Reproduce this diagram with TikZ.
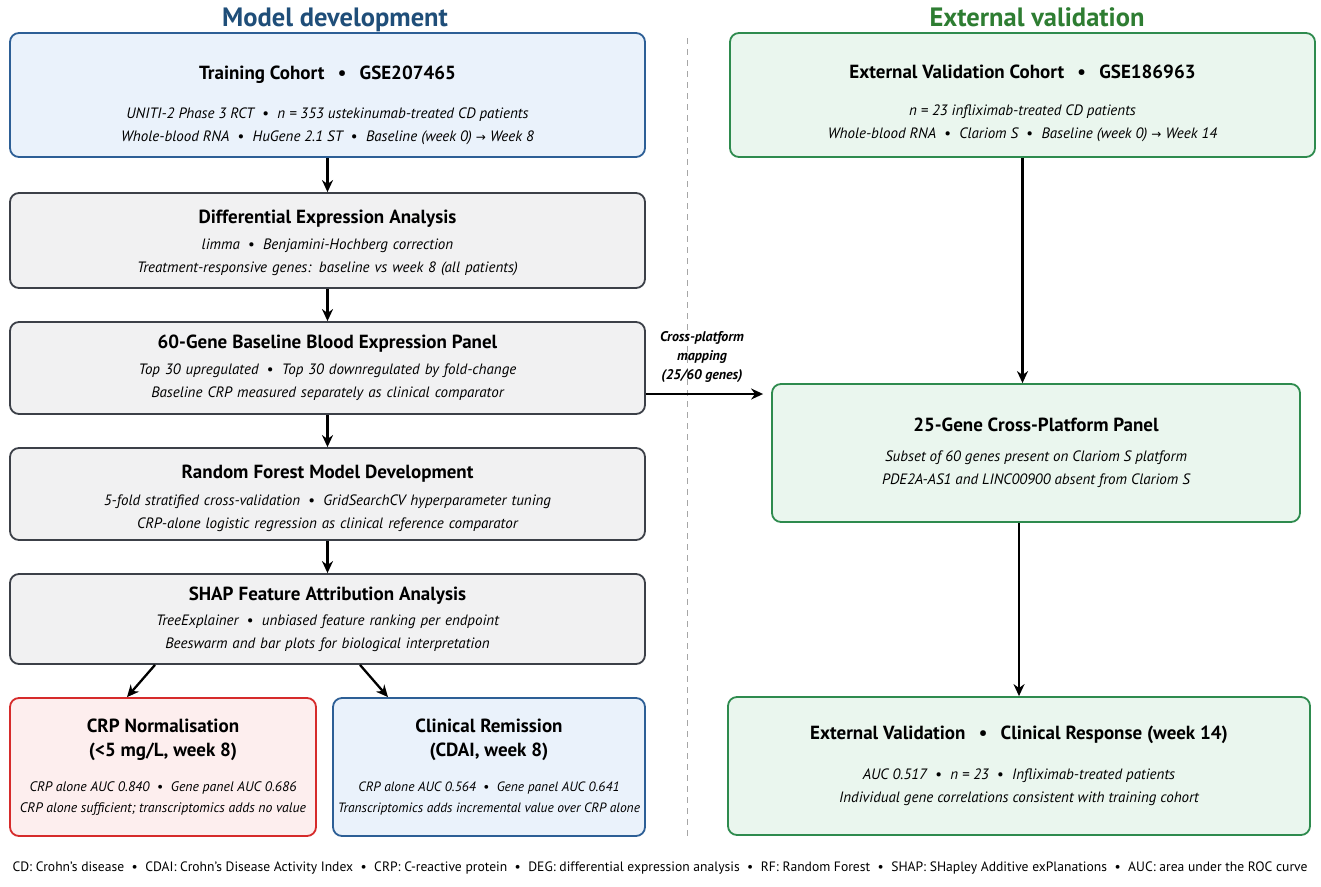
\documentclass[tikz,border=0pt]{standalone}
\usepackage{fontspec}
\setmainfont{PT Sans}
\newfontfamily\symfont{DejaVu Sans}
\usetikzlibrary{arrows.meta}
\definecolor{devblue}{HTML}{1F4E79}
\definecolor{valgreen}{HTML}{2E7D32}
\definecolor{bluedraw}{HTML}{2D5F96}
\definecolor{bluefill}{HTML}{EAF2FB}
\definecolor{greydraw}{HTML}{3C4048}
\definecolor{greyfill}{HTML}{F1F1F2}
\definecolor{greendraw}{HTML}{2E8B4E}
\definecolor{greenfill}{HTML}{EAF6EE}
\definecolor{reddraw}{HTML}{D62B2B}
\definecolor{redfill}{HTML}{FDEEEE}
\newcommand{\boxtitle}[1]{{\fontsize{19}{22}\selectfont\bfseries\upshape #1}}
\newcommand{\bigsep}{\hspace{0.7em}\textbullet\hspace{0.7em}}
\newcommand{\smallsep}{\hspace{0.55em}{\upshape\textbullet}\hspace{0.55em}}
\newcommand{\toarrow}{{\symfont\upshape\fontsize{12}{12}\selectfont →}}
\newcommand{\padtop}[1]{\rule{0pt}{#1pt}}
\begin{document}
\begin{tikzpicture}[x=1pt, y=-1pt, >={Stealth[length=12pt, width=11pt]},
    box/.style={draw, rounded corners=9pt, line width=1.8pt, align=center, inner sep=0pt,
      font=\fontsize{15}{23}\selectfont\itshape},
    greybox/.style={box, draw=greydraw, fill=greyfill, minimum width=635, text width=625},
    bluebox/.style={box, draw=bluedraw, fill=bluefill},
    greenbox/.style={box, draw=greendraw, fill=greenfill},
    redbox/.style={box, draw=reddraw, fill=redfill},
    heading/.style={font=\fontsize{26.5}{30}\selectfont\bfseries, anchor=base},
    arr/.style={->, line width=2.3pt},
    divider/.style={draw=gray!70, line width=1pt, dash pattern=on 6pt off 5pt}]
    \useasboundingbox [fill=white] (0,0) rectangle (1321,886);

    \node [heading, text=devblue] (mdev) at (335,27) {Model development};
    \node [heading, text=valgreen] (xval) at (1037,27) {External validation};
    \draw [divider] (687,38) -- (687,838);

    \node [bluebox, minimum width=635, minimum height=124] (train) at (327.5,95)
      {\padtop{34}\boxtitle{Training Cohort\bigsep GSE207465}\\[16pt]
       UNITI-2 Phase 3 RCT\smallsep n = 353 ustekinumab-treated CD patients\\
       Whole-blood RNA\smallsep HuGene 2.1 ST\smallsep Baseline (week 0) \toarrow{} Week 8};
    \node [greybox, minimum height=95] (dea) at (327.5,240.5)
      {\padtop{18}\boxtitle{Differential Expression Analysis}\\[3pt]
       limma\smallsep Benjamini-Hochberg correction\\
       Treatment-responsive genes: baseline vs week 8 (all patients)};
    \node [greybox, minimum height=92] (panel) at (327.5,368)
      {\boxtitle{60-Gene Baseline Blood Expression Panel}\\[3pt]
       Top 30 upregulated\smallsep Top 30 downregulated by fold-change\\
       Baseline CRP measured separately as clinical comparator};
    \node [greybox, minimum height=92] (rf) at (327.5,494)
      {\padtop{22}\boxtitle{Random Forest Model Development}\\[4pt]
       5-fold stratified cross-validation\smallsep GridSearchCV hyperparameter tuning\\
       CRP-alone logistic regression as clinical reference comparator};
    \node [greybox, minimum height=90] (shap) at (327.5,619)
      {\boxtitle{SHAP Feature Attribution Analysis}\\[2pt]
       TreeExplainer\smallsep unbiased feature ranking per endpoint\\
       Beeswarm and bar plots for biological interpretation};
    \node [redbox, minimum width=306, minimum height=138,
      font=\fontsize{13.8}{21}\selectfont\itshape] (crp) at (163,767)
      {\boxtitle{CRP Normalisation}\\[3pt]
       \boxtitle{(<5 mg/L, week 8)}\\[14pt]
       CRP alone AUC 0.840\smallsep Gene panel AUC 0.686\\
       CRP alone sufficient; transcriptomics adds no value};
    \node [bluebox, minimum width=312, minimum height=138,
      font=\fontsize{13.5}{21}\selectfont\itshape] (remis) at (489,767)
      {\boxtitle{Clinical Remission}\\[3pt]
       \boxtitle{(CDAI, week 8)}\\[14pt]
       CRP alone AUC 0.564\smallsep Gene panel AUC 0.641\\
       Transcriptomics adds incremental value over CRP alone};

    \node [greenbox, minimum width=585, minimum height=124] (cohort) at (1022.5,95)
      {\padtop{31}\boxtitle{External Validation Cohort\bigsep GSE186963}\\[14pt]
       n = 23 infliximab-treated CD patients\\
       Whole-blood RNA\smallsep Clariom S\smallsep Baseline (week 0) \toarrow{} Week 14};
    \node [greenbox, minimum width=528, minimum height=138] (cross) at (1036,453)
      {\boxtitle{25-Gene Cross-Platform Panel}\\[7pt]
       Subset of 60 genes present on Clariom S platform\\
       PDE2A-AS1 and LINC00900 absent from Clariom S};
    \node [greenbox, minimum width=582, minimum height=138] (extval) at (1019,766)
      {\boxtitle{External Validation\bigsep Clinical Response (week 14)}\\[17pt]
       AUC 0.517\smallsep n = 23\smallsep Infliximab-treated patients\\
       Individual gene correlations consistent with training cohort};

    \draw [arr] (train) -- (dea);
    \draw [arr] (dea) -- (panel);
    \draw [arr] (panel) -- (rf);
    \draw [arr] (rf) -- (shap);
    \draw [arr] ([xshift=-172.5]shap.south) -- ([xshift=-36]crp.north);
    \draw [arr] ([xshift=32.5]shap.south) -- ([xshift=-101]remis.north);
    \draw [arr] (cohort.south) -- (cohort.south |- cross.north);
    \draw [arr] (extval.north |- cross.south) -- (extval.north);

    \coordinate (mapin) at ([yshift=59]cross.west);
    \draw [arr, shorten >=8pt] (panel.east |- mapin) -- (mapin);
    \node [font=\fontsize{14}{19}\selectfont\bfseries\itshape, align=center] (maplbl)
      at (702,357) {Cross-platform\\mapping\\(25/60 genes)};

    \node [font=\fontsize{13.6}{15}\selectfont] (abbr) at (660,868)
      {CD: Crohn's disease\smallsep CDAI: Crohn's Disease Activity Index\smallsep
       CRP: C-reactive protein\smallsep DEG: differential expression analysis\smallsep
       RF: Random Forest\smallsep SHAP: SHapley Additive exPlanations\smallsep
       AUC: area under the ROC curve};
\end{tikzpicture}
\end{document}
